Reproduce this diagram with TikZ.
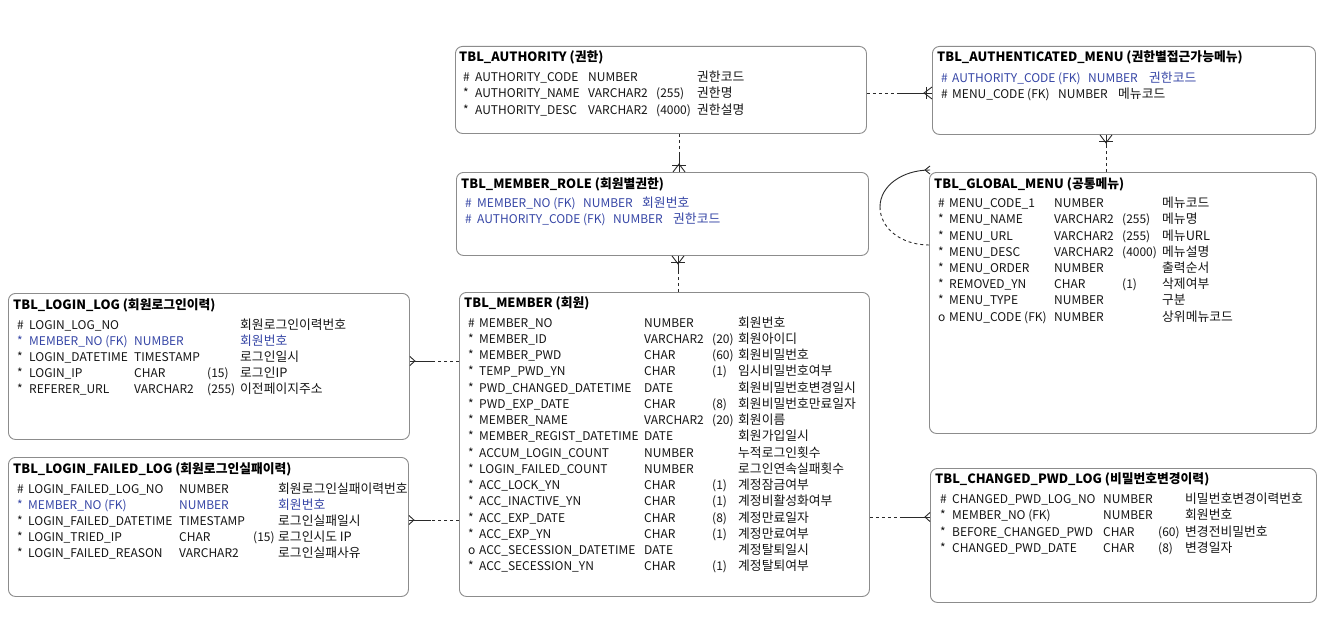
\documentclass[tikz,border=0pt]{standalone}
\usepackage{fontspec}
\setmainfont{Noto Sans CJK KR}
\usetikzlibrary{calc}
\definecolor{fk}{HTML}{3646A6}
\definecolor{ink}{HTML}{151515}
\definecolor{frame}{HTML}{8C8C8C}
\definecolor{wire}{HTML}{2A2A2A}
\newcount\cellcount
\newcommand\cell[4]{\global\advance\cellcount by 1\relax\edef\cname{c\the\cellcount}\node[cellt,#1] (\cname) at (#2,{#3+4.3}) {#4};}
\newcommand\setcols[5]{\def\xa{#1}\def\xb{#2}\def\xc{#3}\def\xd{#4}\def\xe{#5}}
\newcommand\trow[7]{\cell{#1}{\xa}{#2}{#3}\cell{#1}{\xb}{#2}{#4}\cell{#1}{\xc}{#2}{#5}\cell{#1}{\xd}{#2}{#6}\cell{#1,kor}{\xe}{#2}{#7}}
\newcommand\ttitle[4]{\node[ttl] (#1) at (#2,{#3+4.6}) {#4};}
% crow's foot: point, ux, uy, len, spread
\newcommand\crow[5]{\draw[rel] ($(#1)+({(#5)*(-(#3))},{(#5)*(#2)})$) -- ($(#1)+({(#4)*(#2)},{(#4)*(#3)})$) -- ($(#1)+({(#5)*(#3)},{-(#5)*(#2)})$);}
% bar: point, ux, uy, dist, half
\newcommand\crowbar[5]{\draw[rel] ($(#1)+({(#4)*(#2)-(#5)*(#3)},{(#4)*(#3)+(#5)*(#2)})$) -- ($(#1)+({(#4)*(#2)+(#5)*(#3)},{(#4)*(#3)-(#5)*(#2)})$);}
\tikzset{
 cellt/.style={anchor=base west, inner sep=0pt, font=\fontsize{12}{14}\selectfont, text=ink},
 kor/.style={font=\fontsize{12.8}{14}\selectfont},
 fkt/.style={text=fk},
 plain/.style={},
 ttl/.style={anchor=base west, inner sep=0pt, font=\fontsize{12.8}{15}\selectfont\bfseries, text=black},
 tbl/.style={draw=frame, line width=0.9pt, rounded corners=7pt, anchor=north west, inner sep=0pt, fill=white},
 rel/.style={draw=wire, line width=0.9pt},
 reld/.style={rel, dash pattern=on 3pt off 3pt},
}
\begin{document}
\begin{tikzpicture}[x=1pt,y=-1pt]
\useasboundingbox[fill=white] (0,0) rectangle (1339,634);
% tables
\node[tbl, minimum width=411pt, minimum height=87pt] (auth) at (455,46) {};
\node[tbl, minimum width=383pt, minimum height=88pt] (amenu) at (932,46) {};
\node[tbl, minimum width=412pt, minimum height=83pt] (role) at (456,172) {};
\node[tbl, minimum width=387pt, minimum height=261pt] (gmenu) at (929,172) {};
\node[tbl, minimum width=401pt, minimum height=146pt] (llog) at (8,293) {};
\node[tbl, minimum width=400pt, minimum height=139pt] (lflog) at (8,457) {};
\node[tbl, minimum width=410pt, minimum height=304pt] (member) at (459,292) {};
\node[tbl, minimum width=386pt, minimum height=134pt] (cpwd) at (930,468) {};

% TBL_AUTHORITY
\ttitle{tauth}{459}{57}{TBL\_AUTHORITY (권한)}
\setcols{463}{475}{588}{656}{697}
\trow{plain}{77}{\#}{AUTHORITY\_CODE}{NUMBER}{}{권한코드}
\trow{plain}{93}{*}{AUTHORITY\_NAME}{VARCHAR2}{(255)}{권한명}
\trow{plain}{110}{*}{AUTHORITY\_DESC}{VARCHAR2}{(4000)}{권한설명}

% TBL_AUTHENTICATED_MENU
\ttitle{tamenu}{937}{57}{TBL\_AUTHENTICATED\_MENU (권한별접근가능메뉴)}
\cell{fkt}{941}{78}{\#}\cell{fkt}{952}{78}{AUTHORITY\_CODE (FK)}\cell{fkt}{1088}{78}{NUMBER}\cell{fkt,kor}{1149}{78}{권한코드}
\cell{plain}{941}{94}{\#}\cell{plain}{952}{94}{MENU\_CODE (FK)}\cell{plain}{1058}{94}{NUMBER}\cell{plain,kor}{1118}{94}{메뉴코드}

% TBL_MEMBER_ROLE
\ttitle{trole}{461}{184}{TBL\_MEMBER\_ROLE (회원별권한)}
\cell{fkt}{465}{203}{\#}\cell{fkt}{477}{203}{MEMBER\_NO (FK)}\cell{fkt}{583}{203}{NUMBER}\cell{fkt,kor}{642}{203}{회원번호}
\cell{fkt}{465}{219}{\#}\cell{fkt}{477}{219}{AUTHORITY\_CODE (FK)}\cell{fkt}{613}{219}{NUMBER}\cell{fkt,kor}{673}{219}{권한코드}

% TBL_GLOBAL_MENU
\ttitle{tgmenu}{934}{184}{TBL\_GLOBAL\_MENU (공통메뉴)}
\setcols{938}{949}{1054}{1122}{1162}
\trow{plain}{203}{\#}{MENU\_CODE\_1}{NUMBER}{}{메뉴코드}
\trow{plain}{219.5}{*}{MENU\_NAME}{VARCHAR2}{(255)}{메뉴명}
\trow{plain}{236}{*}{MENU\_URL}{VARCHAR2}{(255)}{메뉴URL}
\trow{plain}{252}{*}{MENU\_DESC}{VARCHAR2}{(4000)}{메뉴설명}
\trow{plain}{268}{*}{MENU\_ORDER}{NUMBER}{}{출력순서}
\trow{plain}{284.5}{*}{REMOVED\_YN}{CHAR}{(1)}{삭제여부}
\trow{plain}{300.5}{*}{MENU\_TYPE}{NUMBER}{}{구분}
\trow{plain}{317}{o}{MENU\_CODE (FK)}{NUMBER}{}{상위메뉴코드}

% TBL_LOGIN_LOG
\ttitle{tllog}{13}{305}{TBL\_LOGIN\_LOG (회원로그인이력)}
\setcols{17}{29}{134}{207}{240}
\trow{plain}{325}{\#}{LOGIN\_LOG\_NO}{}{}{회원로그인이력번호}
\trow{fkt}{341}{*}{MEMBER\_NO (FK)}{NUMBER}{}{회원번호}
\trow{plain}{357.5}{*}{LOGIN\_DATETIME}{TIMESTAMP}{}{로그인일시}
\trow{plain}{373.5}{*}{LOGIN\_IP}{CHAR}{(15)}{로그인IP}
\trow{plain}{389.5}{*}{REFERER\_URL}{VARCHAR2}{(255)}{이전페이지주소}

% TBL_LOGIN_FAILED_LOG
\ttitle{tlflog}{13}{469}{TBL\_LOGIN\_FAILED\_LOG (회원로그인실패이력)}
\setcols{17}{28}{179}{253}{278}
\trow{plain}{489.5}{\#}{LOGIN\_FAILED\_LOG\_NO}{NUMBER}{}{회원로그인실패이력번호}
\trow{fkt}{505.5}{*}{MEMBER\_NO (FK)}{NUMBER}{}{회원번호}
\trow{plain}{521.5}{*}{LOGIN\_FAILED\_DATETIME}{TIMESTAMP}{}{로그인실패일시}
\trow{plain}{537}{*}{LOGIN\_TRIED\_IP}{CHAR}{(15)}{로그인시도 IP}
\trow{plain}{553.5}{*}{LOGIN\_FAILED\_REASON}{VARCHAR2}{}{로그인실패사유}

% TBL_MEMBER
\ttitle{tmember}{464}{303}{TBL\_MEMBER (회원)}
\setcols{468}{479}{644}{712}{738}
\trow{plain}{323}{\#}{MEMBER\_NO}{NUMBER}{}{회원번호}
\trow{plain}{339.5}{*}{MEMBER\_ID}{VARCHAR2}{(20)}{회원아이디}
\trow{plain}{355.5}{*}{MEMBER\_PWD}{CHAR}{(60)}{회원비밀번호}
\trow{plain}{371.5}{*}{TEMP\_PWD\_YN}{CHAR}{(1)}{임시비밀번호여부}
\trow{plain}{388}{*}{PWD\_CHANGED\_DATETIME}{DATE}{}{회원비밀번호변경일시}
\trow{plain}{404}{*}{PWD\_EXP\_DATE}{CHAR}{(8)}{회원비밀번호만료일자}
\trow{plain}{420.5}{*}{MEMBER\_NAME}{VARCHAR2}{(20)}{회원이름}
\trow{plain}{436.5}{*}{MEMBER\_REGIST\_DATETIME}{DATE}{}{회원가입일시}
\trow{plain}{453}{*}{ACCUM\_LOGIN\_COUNT}{NUMBER}{}{누적로그인횟수}
\trow{plain}{469}{*}{LOGIN\_FAILED\_COUNT}{NUMBER}{}{로그인연속실패횟수}
\trow{plain}{485}{*}{ACC\_LOCK\_YN}{CHAR}{(1)}{계정잠금여부}
\trow{plain}{501.5}{*}{ACC\_INACTIVE\_YN}{CHAR}{(1)}{계정비활성화여부}
\trow{plain}{518}{*}{ACC\_EXP\_DATE}{CHAR}{(8)}{계정만료일자}
\trow{plain}{534}{*}{ACC\_EXP\_YN}{CHAR}{(1)}{계정만료여부}
\trow{plain}{550}{o}{ACC\_SECESSION\_DATETIME}{DATE}{}{계정탈퇴일시}
\trow{plain}{566.5}{*}{ACC\_SECESSION\_YN}{CHAR}{(1)}{계정탈퇴여부}

% TBL_CHANGED_PWD_LOG
\ttitle{tcpwd}{935}{479}{TBL\_CHANGED\_PWD\_LOG (비밀번호변경이력)}
\setcols{940}{952}{1103}{1158}{1185}
\trow{plain}{499}{\#}{CHANGED\_PWD\_LOG\_NO}{NUMBER}{}{비밀번호변경이력번호}
\trow{plain}{515.5}{*}{MEMBER\_NO (FK)}{NUMBER}{}{회원번호}
\trow{plain}{532}{*}{BEFORE\_CHANGED\_PWD}{CHAR}{(60)}{변경전비밀번호}
\trow{plain}{548.5}{*}{CHANGED\_PWD\_DATE}{CHAR}{(8)}{변경일자}

% ---- connectors ----
% AUTHORITY -> AUTHENTICATED_MENU
\coordinate (a1) at (auth.east |- 0,93);
\coordinate (a2) at (amenu.west |- 0,93);
\coordinate (am) at (898,93);
\draw[reld] (a1) -- (am);
\draw[rel] (am) -- (a2);
\crow{a2}{-1}{0}{8}{6}
\crowbar{a2}{-1}{0}{6}{6}
% AUTHORITY -> MEMBER_ROLE
\coordinate (b1) at (679,0 |- auth.south);
\coordinate (b2) at (679,0 |- role.north);
\coordinate (bm) at (679,154);
\draw[reld] (b1) -- (bm);
\draw[rel] (bm) -- (b2);
\crow{b2}{0}{-1}{8}{6}
\crowbar{b2}{0}{-1}{7}{7}
% MEMBER -> MEMBER_ROLE
\coordinate (c1) at (678,0 |- member.north);
\coordinate (c2) at (678,0 |- role.south);
\coordinate (cm) at (678,272);
\draw[reld] (c1) -- (cm);
\draw[rel] (cm) -- (c2);
\crow{c2}{0}{1}{8}{6}
\crowbar{c2}{0}{1}{7}{7}
% GLOBAL_MENU -> AUTHENTICATED_MENU
\coordinate (d1) at (1106,0 |- gmenu.north);
\coordinate (d2) at (1106,0 |- amenu.south);
\coordinate (dm) at (1106,146);
\draw[reld] (d1) -- (dm);
\draw[rel] (dm) -- (d2);
\crow{d2}{0}{1}{8}{6}
\crowbar{d2}{0}{1}{7}{7}
% GLOBAL_MENU self relation
\coordinate (s1) at ($(gmenu.north west)+(1,-2)$);
\coordinate (s2) at (gmenu.west |- 0,245);
\coordinate (sm) at (880,207);
\draw[rel] (s1) .. controls +(-28,0) and +(0,-21) .. (sm);
\draw[reld] (sm) .. controls +(0,21) and +(-28,0) .. (s2);
\crow{s1}{-1}{0}{5}{4}
% MEMBER -> LOGIN_LOG
\coordinate (e1) at (member.west |- 0,361);
\coordinate (e2) at (llog.east |- 0,361);
\coordinate (em) at (432,361);
\draw[reld] (e1) -- (em);
\draw[rel] (em) -- (e2);
\crow{e2}{1}{0}{5}{4.5}
% MEMBER -> LOGIN_FAILED_LOG
\coordinate (f1) at (member.west |- 0,520);
\coordinate (f2) at (lflog.east |- 0,520);
\coordinate (fm) at (431,520);
\draw[reld] (f1) -- (fm);
\draw[rel] (fm) -- (f2);
\crow{f2}{1}{0}{5}{4.5}
% MEMBER -> CHANGED_PWD_LOG
\coordinate (g1) at (member.east |- 0,517);
\coordinate (g2) at (cpwd.west |- 0,517);
\coordinate (gm) at (902,517);
\draw[reld] (g1) -- (gm);
\draw[rel] (gm) -- (g2);
\crow{g2}{-1}{0}{5}{4.5}
\end{tikzpicture}
\end{document}
